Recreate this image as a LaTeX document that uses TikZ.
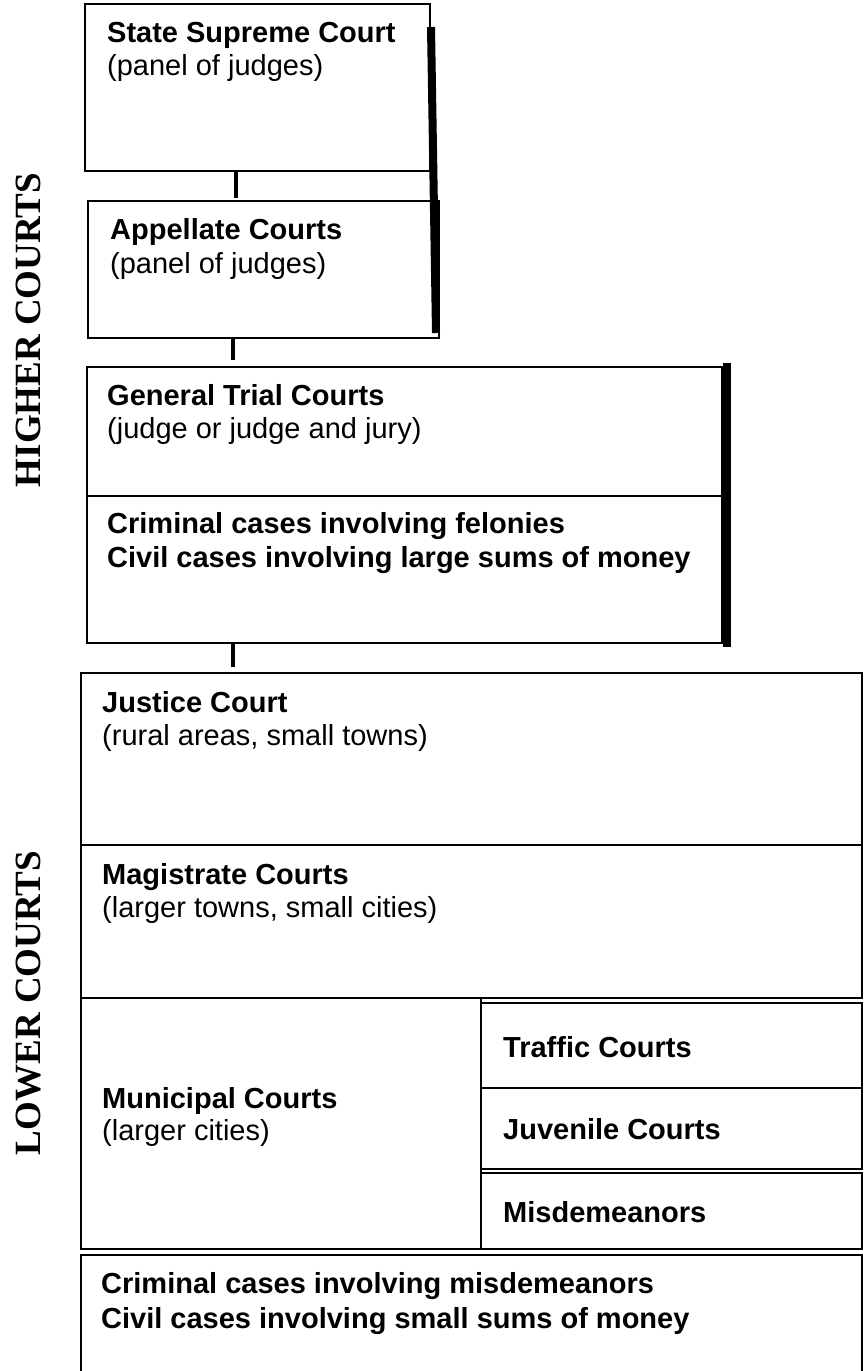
\documentclass[tikz,border=0pt]{standalone}
\usepackage{fontspec}
\setmainfont{Liberation Sans}
\newfontfamily\sidefont{Liberation Serif}
\usetikzlibrary{positioning,calc}

\begin{document}
\begin{tikzpicture}[x=1pt, y=-1pt,
  box/.style = {draw, line width=1.5pt, rectangle, anchor=north west, inner sep=0pt, outer sep=0pt},
  head/.style = {anchor=base west, inner sep=0pt, font=\fontsize{29}{34}\selectfont\bfseries},
  sub/.style = {anchor=base west, inner sep=0pt, font=\fontsize{29}{34}\selectfont},
  side/.style = {rotate=90, inner sep=0pt, font=\fontsize{37}{40}\selectfont\sidefont\bfseries},
  bar/.style = {line width=8pt},
  stem/.style = {line width=4pt}]
  \useasboundingbox (0,0) rectangle (864,1371);
  \clip (0,0) rectangle (864,1371);

  % higher courts
  \node[box, minimum width=345pt, minimum height=167pt] (sup) at (85,4) {};
  \node[box, minimum width=351pt, minimum height=137pt] (app) at (88,201) {};
  \node[box, minimum width=635pt, minimum height=129pt] (gtc) at (87,367) {};
  \node[box, minimum width=635pt, minimum height=147pt] (fel) at (87,496) {};

  % lower courts
  \node[box, minimum width=781pt, minimum height=172pt] (just) at (81,673) {};
  \node[box, minimum width=781pt, minimum height=153pt] (mag) at (81,845) {};
  \node[box, minimum width=400pt, minimum height=251pt] (muni) at (81,998) {};
  \node[box, minimum width=381pt, minimum height=85pt] (traf) at (481,1003) {};
  \node[box, minimum width=381pt, minimum height=81pt] (juv) at (481,1088) {};
  \node[box, minimum width=381pt, minimum height=76pt] (misd) at (481,1173) {};
  \node[box, minimum width=781pt, minimum height=140pt] (small) at (81,1255) {};

  % texts
  \node[head] (supa) at (107,42) {State Supreme Court};
  \node[sub] (supb) at ([yshift=-33pt]supa.base west) {(panel of judges)};
  \node[head] (appa) at (110,239) {Appellate Courts};
  \node[sub] (appb) at ([yshift=-34pt]appa.base west) {(panel of judges)};
  \node[head] (gtca) at (107,405) {General Trial Courts};
  \node[sub] (gtcb) at ([yshift=-33pt]gtca.base west) {(judge or judge and jury)};
  \node[head] (fela) at (107,533) {Criminal cases involving felonies};
  \node[head] (felb) at ([yshift=-34pt]fela.base west) {Civil cases involving large sums of money};
  \node[head] (justa) at (102,712) {Justice Court};
  \node[sub] (justb) at ([yshift=-33pt]justa.base west) {(rural areas, small towns)};
  \node[head] (maga) at (102,884) {Magistrate Courts};
  \node[sub] (magb) at ([yshift=-33pt]maga.base west) {(larger towns, small cities)};
  \node[head] (munia) at (102,1108) {Municipal Courts};
  \node[sub] (munib) at ([yshift=-32pt]munia.base west) {(larger cities)};
  \node[head] (trafa) at (503,1057) {Traffic Courts};
  \node[head] (juva) at (503,1139) {Juvenile Courts};
  \node[head] (misda) at (503,1222) {Misdemeanors};
  \node[head] (smalla) at (101,1293) {Criminal cases involving misdemeanors};
  \node[head] (smallb) at ([yshift=-35pt]smalla.base west) {Civil cases involving small sums of money};

  \node[side] (hi) at (28.5,330) {HIGHER COURTS};
  \node[side] (lo) at (28.5,1003) {LOWER COURTS};

  % links and bars
  \draw[stem] ([xshift=151pt]sup.south west) -- ([xshift=148pt,yshift=3pt]app.north west);
  \draw[stem] ([xshift=145pt]app.south west) -- ([xshift=146pt,yshift=7pt]gtc.north west);
  \draw[stem] ([xshift=146pt]fel.south west) -- ([xshift=152pt,yshift=6pt]just.north west);
  \draw[bar] ([xshift=1pt,yshift=-23pt]sup.north east) -- ([xshift=-3pt,yshift=5pt]app.south east);
  \draw[bar] ([xshift=5pt,yshift=4pt]gtc.north east) -- ([xshift=5pt,yshift=-4pt]fel.south east);
\end{tikzpicture}
\end{document}
